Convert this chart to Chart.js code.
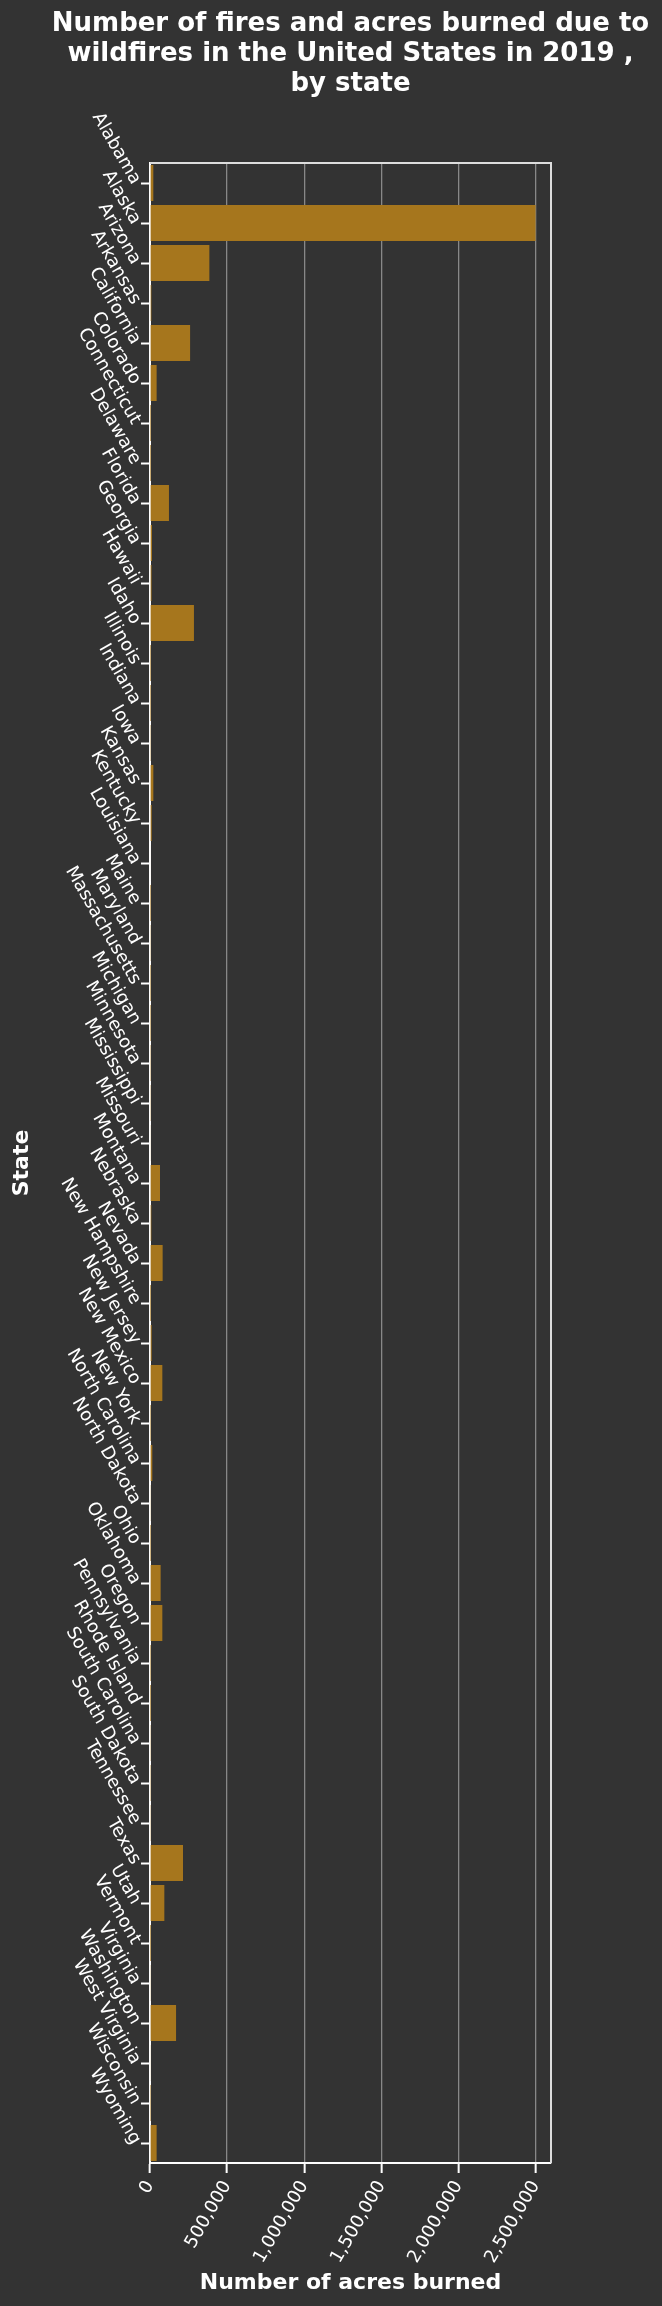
<!DOCTYPE html>
<html>
<head>
<meta charset="utf-8">
<title>Wildfires 2019 by state</title>
<script src="https://cdn.jsdelivr.net/npm/chart.js@4.4.1/dist/chart.umd.min.js"></script>
<style>
  html, body { margin: 0; padding: 0; background: #333333; }
  canvas { display: block; }
</style>
</head>
<body>
<canvas id="fireChart" width="662" height="2306"></canvas>
<script>
// states on the y axis, top to bottom
const states = ['Alabama', 'Alaska', 'Arizona', 'Arkansas', 'California', 'Colorado',
  'Connecticut', 'Delaware', 'Florida', 'Georgia', 'Hawaii', 'Idaho', 'Illinois',
  'Indiana', 'Iowa', 'Kansas', 'Kentucky', 'Louisiana', 'Maine', 'Maryland',
  'Massachusetts', 'Michigan', 'Minnesota', 'Mississippi', 'Missouri', 'Montana',
  'Nebraska', 'Nevada', 'New Hampshire', 'New Jersey', 'New Mexico', 'New York',
  'North Carolina', 'North Dakota', 'Ohio', 'Oklahoma', 'Oregon', 'Pennsylvania',
  'Rhode Island', 'South Carolina', 'South Dakota', 'Tennessee', 'Texas', 'Utah',
  'Vermont', 'Virginia', 'Washington', 'West Virginia', 'Wisconsin', 'Wyoming'];

// acres burned
const acresBurned = [21500, 2500000, 385000, 8700, 260000, 43000,
  300, 200, 123000, 13000, 10000, 285000, 500,
  600, 2000, 21600, 11000, 4000, 600, 2500,
  900, 1000, 6500, 6000, 5000, 65000,
  8500, 82000, 100, 10800, 80000, 900,
  15000, 3000, 700, 69000, 80000, 900,
  100, 6000, 2000, 6000, 214000, 93000,
  100, 3000, 169000, 5000, 1000, 43000];

const xTicks = [0, 500000, 1000000, 1500000, 2000000, 2500000];
const xMax = 2600000;

const titleLines = ['Number of fires and acres burned due to',
  'wildfires in the United States in 2019 ,', 'by state'];

Chart.defaults.font.family = 'DejaVu Sans';
Chart.defaults.color = '#ffffff';

// title centred over the plot, plus light frame on top and right
const framePlugin = {
  id: 'frame',
  afterDatasetsDraw(chart) {
    const a = chart.chartArea;
    const ctx = chart.ctx;
    ctx.save();
    ctx.strokeStyle = '#dddddd';
    ctx.lineWidth = 2;
    ctx.beginPath();
    ctx.moveTo(a.left, a.top);
    ctx.lineTo(a.right, a.top);
    ctx.lineTo(a.right, a.bottom);
    ctx.stroke();

    ctx.fillStyle = '#ffffff';
    ctx.font = 'bold 26px "DejaVu Sans"';
    ctx.textAlign = 'center';
    ctx.textBaseline = 'alphabetic';
    const cx = (a.left + a.right) / 2;
    titleLines.forEach((line, i) => {
      ctx.fillText(line, cx, 31 + i * 30);
    });
    ctx.restore();
  }
};

new Chart(document.getElementById('fireChart'), {
  type: 'bar',
  data: {
    labels: states,
    datasets: [{
      label: 'Number of acres burned',
      data: acresBurned,
      backgroundColor: '#a6761d',
      barPercentage: 0.9,
      categoryPercentage: 1.0
    }]
  },
  options: {
    indexAxis: 'y',
    responsive: false,
    animation: false,
    devicePixelRatio: 1,
    layout: { padding: { left: 0, right: 111, top: 163, bottom: 0 } },
    plugins: {
      legend: { display: false },
      tooltip: { enabled: false },
      title: { display: false }
    },
    scales: {
      x: {
        type: 'linear',
        min: 0,
        max: xMax,
        afterFit: (scale) => { scale.height = 143; },
        afterBuildTicks: (scale) => { scale.ticks = xTicks.map(v => ({ value: v })); },
        ticks: {
          includeBounds: false,
          minRotation: 60,
          maxRotation: 60,
          padding: 4,
          color: '#ffffff',
          font: { size: 18 },
          callback: (v) => Number(v).toLocaleString('en-US')
        },
        grid: {
          color: '#888888',
          lineWidth: 1.3,
          tickColor: '#ffffff',
          tickWidth: 2,
          tickLength: 10
        },
        border: { display: true, color: '#ffffff', width: 2 },
        title: {
          display: true,
          text: 'Number of acres burned',
          color: '#ffffff',
          font: { size: 22, weight: 'bold' },
          padding: { top: 0, bottom: 10 }
        }
      },
      y: {
        type: 'category',
        afterFit: (scale) => { scale.width = 150; },
        ticks: {
          autoSkip: false,
          minRotation: -60,
          maxRotation: -60,
          padding: 5,
          color: '#ffffff',
          font: { size: 18 }
        },
        grid: {
          offset: false,
          drawOnChartArea: false,
          tickColor: '#ffffff',
          tickWidth: 2,
          tickLength: 9
        },
        border: { display: true, color: '#ffffff', width: 2 },
        title: {
          display: true,
          text: 'State',
          color: '#ffffff',
          font: { size: 22, weight: 'bold' },
          padding: { top: 9, bottom: 0 }
        }
      }
    }
  },
  plugins: [framePlugin]
});
</script>
</body>
</html>
